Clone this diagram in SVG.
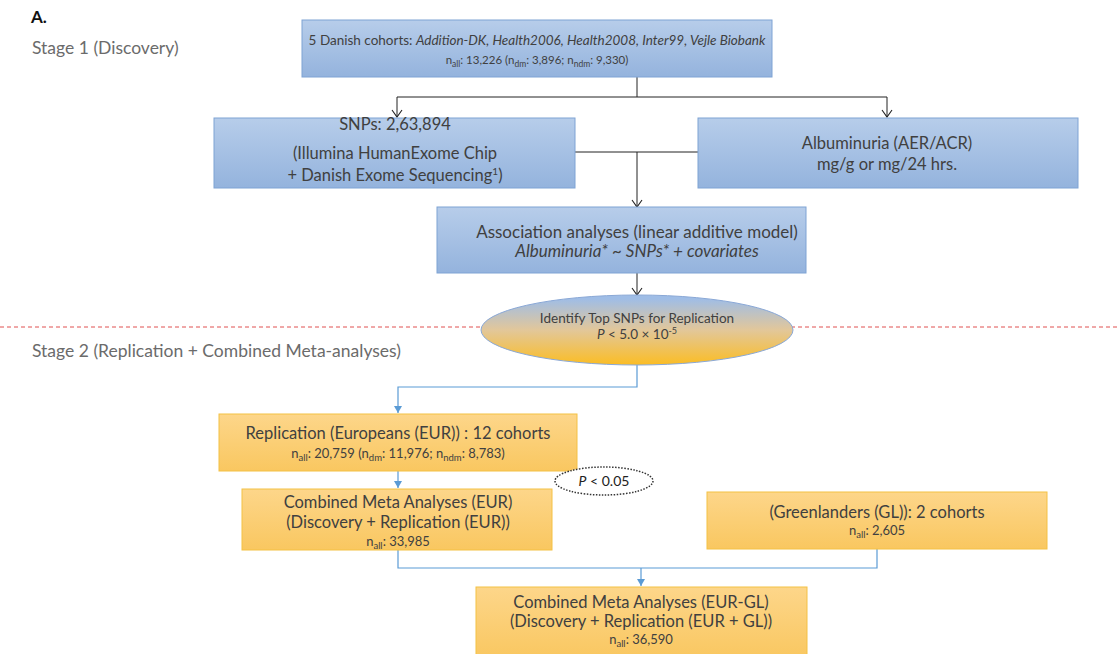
<svg xmlns="http://www.w3.org/2000/svg" width="1117" height="654" viewBox="0 0 1117 654">
<defs>
<linearGradient id="gBlue" x1="0" y1="0" x2="0" y2="1"><stop offset="0" stop-color="#b7cdea"/><stop offset="1" stop-color="#94b3dd"/></linearGradient>
<linearGradient id="gOrange" x1="0" y1="0" x2="0" y2="1"><stop offset="0" stop-color="#fdd68a"/><stop offset="1" stop-color="#f9c760"/></linearGradient>
<linearGradient id="gEll" x1="0" y1="0" x2="0" y2="1"><stop offset="0.05" stop-color="#9fbde6"/><stop offset="0.5" stop-color="#e2c79a"/><stop offset="1" stop-color="#fbbd24"/></linearGradient>
<marker id="openArr" markerWidth="12" markerHeight="12" refX="6" refY="10" markerUnits="userSpaceOnUse" viewBox="0 0 12 12"><path d="M1,3 L6,10 L11,3" fill="none" stroke="#222" stroke-width="1.1"/></marker>
<marker id="blueArr" markerWidth="10" markerHeight="10" refX="5" refY="9" markerUnits="userSpaceOnUse" viewBox="0 0 10 10"><path d="M1,2 L9,2 L5,9 Z" fill="#5b9bd5"/></marker>
</defs>
<style>
text{font-family:Lato,"Open Sans","Liberation Sans",sans-serif;fill:#404040}
.blue{fill:url(#gBlue);stroke:#7fa3d4;stroke-width:1}
.orange{fill:url(#gOrange);stroke:#f4c145;stroke-width:1}
.t16{font-size:16.5px}
.t12{font-size:13px}
.sub{font-size:9.5px}
.it{font-style:italic}
.bl{fill:none;stroke:#222;stroke-width:1}
.bc{fill:none;stroke:#5b9bd5;stroke-width:1.2}
.stage{font-size:17.5px;fill:#6b6b6b}
</style>
<rect width="1117" height="654" fill="#fff"/>
<text x="31" y="23" style="font-size:17px;font-weight:bold;fill:#111">A.</text>
<text x="32" y="54" class="stage">Stage 1 (Discovery)</text>
<line x1="0" y1="327" x2="1117" y2="327" stroke="#e05050" stroke-width="1" stroke-dasharray="4,3"/>
<text x="32" y="357" class="stage">Stage 2 (Replication + Combined Meta-analyses)</text>
<g id="connectors">
<path class="bl" d="M637,77 V97"/>
<path class="bl" d="M397,97 H887"/>
<path class="bl" d="M397,97 V117" marker-end="url(#openArr)"/>
<path class="bl" d="M887,97 V117" marker-end="url(#openArr)"/>
<path class="bl" d="M575,152 H698"/>
<path class="bl" d="M637,152 V207" marker-end="url(#openArr)"/>
<path class="bl" d="M637,273 V295" marker-end="url(#openArr)"/>
<path class="bc" d="M637,365 V387 H398 V413" marker-end="url(#blueArr)"/>
<path class="bc" d="M398,471 V488" marker-end="url(#blueArr)"/>
<path class="bc" d="M398,550 V568 H877 V549"/>
<path class="bc" d="M641,568 V586" marker-end="url(#blueArr)"/>
</g>
<g id="cohorts">
<rect class="blue" x="302" y="20" width="470" height="57"/>
<text x="537" y="45" text-anchor="middle" style="font-size:13.5px">5 Danish cohorts: <tspan class="it">Addition-DK, Health2006, Health2008, Inter99, Vejle Biobank</tspan></text>
<text x="537" y="64" text-anchor="middle" style="font-size:11.5px">n<tspan style="font-size:8.5px" dy="3">all</tspan><tspan dy="-3">: 13,226 (n</tspan><tspan style="font-size:8.5px" dy="3">dm</tspan><tspan dy="-3">: 3,896; n</tspan><tspan style="font-size:8.5px" dy="3">ndm</tspan><tspan dy="-3">: 9,330)</tspan></text>
</g>
<g id="snps">
<rect class="blue" x="214" y="118" width="361" height="70"/>
<text x="395" y="130" text-anchor="middle" class="t16">SNPs: 2,63,894</text>
<text x="395" y="159" text-anchor="middle" class="t16">(Illumina HumanExome Chip</text>
<text x="395" y="181" text-anchor="middle" class="t16">+ Danish Exome Sequencing<tspan style="font-size:10px" dy="-6">1</tspan><tspan dy="6">)</tspan></text>
</g>
<g id="albuminuria">
<rect class="blue" x="698" y="118" width="380" height="70"/>
<text x="887" y="149" text-anchor="middle" class="t16">Albuminuria (AER/ACR)</text>
<text x="887" y="170" text-anchor="middle" class="t16">mg/g or mg/24 hrs.</text>
</g>
<g id="association">
<rect class="blue" x="437" y="207" width="369" height="66"/>
<text x="637" y="238" text-anchor="middle" style="font-size:17px">Association analyses (linear additive model)</text>
<text x="637" y="257" text-anchor="middle" class="it" style="font-size:17px">Albuminuria* ~ SNPs* + covariates</text>
</g>
<g id="topsnps">
<ellipse cx="637" cy="330" rx="156" ry="35" fill="url(#gEll)" stroke="#8aa8d6" stroke-width="1"/>
<text x="637" y="323" text-anchor="middle" style="font-size:13.5px">Identify Top SNPs for Replication</text>
<text x="637" y="339" text-anchor="middle" style="font-size:13.5px"><tspan class="it">P</tspan> &lt; 5.0 × 10<tspan style="font-size:9px" dy="-5">-5</tspan></text>
</g>
<g id="replication">
<rect class="orange" x="219" y="414" width="358" height="57"/>
<text x="398" y="439" text-anchor="middle" class="t16">Replication (Europeans (EUR)) : 12 cohorts</text>
<text x="398" y="458" text-anchor="middle" class="t12">n<tspan class="sub" dy="3">all</tspan><tspan dy="-3">: 20,759 (n</tspan><tspan class="sub" dy="3">dm</tspan><tspan dy="-3">: 11,976; n</tspan><tspan class="sub" dy="3">ndm</tspan><tspan dy="-3">: 8,783)</tspan></text>
</g>
<g id="pval">
<ellipse cx="604" cy="481" rx="49" ry="14" fill="#fff" stroke="#333" stroke-width="1.5" stroke-dasharray="1.5,1.5"/>
<text x="604" y="486" text-anchor="middle" style="font-size:14px;fill:#222"><tspan class="it">P</tspan> &lt; 0.05</text>
</g>
<g id="combinedEUR">
<rect class="orange" x="242" y="489" width="310" height="61"/>
<text x="398" y="508" text-anchor="middle" class="t16">Combined Meta Analyses (EUR)</text>
<text x="398" y="528" text-anchor="middle" class="t16">(Discovery + Replication (EUR))</text>
<text x="398" y="546" text-anchor="middle" class="t12">n<tspan class="sub" dy="3">all</tspan><tspan dy="-3">: 33,985</tspan></text>
</g>
<g id="greenlanders">
<rect class="orange" x="707" y="492" width="340" height="57"/>
<text x="877" y="518" text-anchor="middle" class="t16">(Greenlanders (GL)): 2 cohorts</text>
<text x="877" y="535" text-anchor="middle" class="t12">n<tspan class="sub" dy="3">all</tspan><tspan dy="-3">: 2,605</tspan></text>
</g>
<g id="combinedEURGL">
<rect class="orange" x="476" y="587" width="331" height="72"/>
<text x="641" y="608" text-anchor="middle" class="t16">Combined Meta Analyses (EUR-GL)</text>
<text x="641" y="627" text-anchor="middle" class="t16">(Discovery + Replication (EUR + GL))</text>
<text x="641" y="644" text-anchor="middle" class="t12">n<tspan class="sub" dy="3">all</tspan><tspan dy="-3">: 36,590</tspan></text>
</g>
</svg>
